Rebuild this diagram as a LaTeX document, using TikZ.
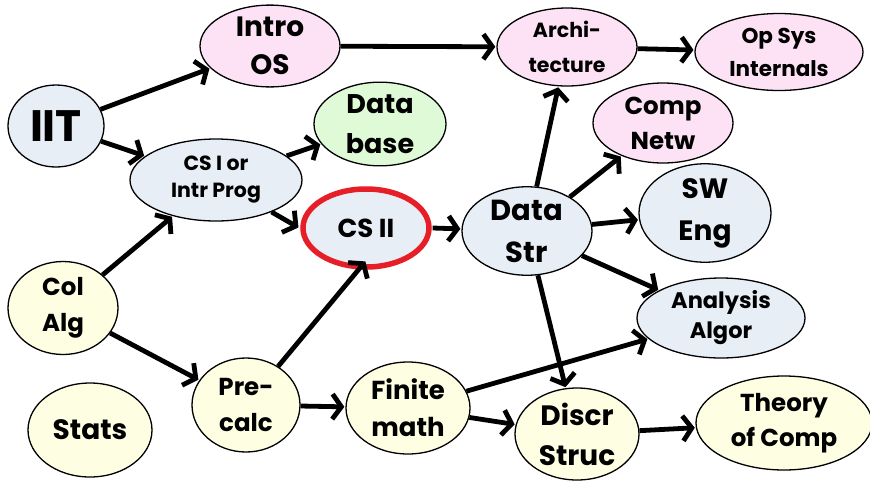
\documentclass[tikz,border=0pt]{standalone}
\usepackage{fontspec}
\setmainfont{Poppins}
\usetikzlibrary{shapes.geometric,arrows.meta}
\definecolor{pinkc}{RGB}{252,226,244}
\definecolor{greenc}{RGB}{222,250,214}
\definecolor{grayc}{RGB}{232,238,246}
\definecolor{creamc}{RGB}{254,254,226}
\definecolor{ringred}{RGB}{230,30,40}
\newcommand{\fsz}[2]{\fontsize{#1}{#2}\selectfont\bfseries}
\tikzset{
  el/.style={ellipse, draw=black, line width=1.3pt, inner sep=0pt, align=center, text=black},
  ar/.style={line width=4.8pt, -{Straight Barb[length=9pt,width=25pt]}, shorten >=1pt},
}
\begin{document}
\begin{tikzpicture}[x=1pt,y=-1pt]
\useasboundingbox (0,0) rectangle (870,480);
\fill[white] (0,0) rectangle (870,480);
% nodes
\node[el, fill=grayc, minimum width=96, minimum height=82, font=\fsz{44}{48}] (iit) at (56,126) {IIT};
\node[el, fill=pinkc, minimum width=140, minimum height=80, font=\fsz{28}{38}] (intro) at (270,46) {Intro\\OS};
\node[el, fill=grayc, minimum width=172, minimum height=82, font=\fsz{20.5}{27}] (cs1) at (216,180) {CS I or\\Intr Prog};
\node[el, fill=greenc, minimum width=132, minimum height=78, font=\fsz{27}{40}] (db) at (380,124) {Data\\base};
\node[el, fill=grayc, draw=none, minimum width=120, minimum height=72, font=\fsz{26}{30}] (cs2) at (366,228) {CS II};
\draw[ringred, line width=5.5pt] (cs2.center) ellipse [x radius=63, y radius=39];
\node[el, fill=grayc, minimum width=130, minimum height=82, font=\fsz{29}{42}] (ds) at (527,231) {Data\\Str};
\node[el, fill=pinkc, minimum width=140, minimum height=78, font=\fsz{20.5}{35}] (arch) at (567,47) {Archi-\\tecture};
\node[el, fill=pinkc, minimum width=168, minimum height=77, font=\fsz{21.5}{33}] (ops) at (779,52) {Op Sys\\Internals};
\node[el, fill=pinkc, minimum width=140, minimum height=80, font=\fsz{24.5}{35}] (cn) at (663,123) {Comp\\Netw};
\node[el, fill=grayc, minimum width=132, minimum height=80, font=\fsz{28}{42}] (sw) at (705,213) {SW\\Eng};
\node[el, fill=grayc, minimum width=168, minimum height=80, font=\fsz{22.5}{30}] (aa) at (721,318) {Analysis\\Algor};
\node[el, fill=creamc, minimum width=176, minimum height=94, font=\fsz{24.5}{35}] (th) at (784,423) {Theory\\of Comp};
\node[el, fill=creamc, minimum width=124, minimum height=92, font=\fsz{28}{40}] (dis) at (577,434) {Discr\\Struc};
\node[el, fill=creamc, minimum width=124, minimum height=92, font=\fsz{26}{37}] (fin) at (408,408) {Finite\\math};
\node[el, fill=creamc, minimum width=108, minimum height=94, font=\fsz{24.5}{36}] (pre) at (246,405) {Pre-\\calc};
\node[el, fill=creamc, minimum width=110, minimum height=93, font=\fsz{24.5}{36}] (col) at (63,308) {Col\\Alg};
\node[el, fill=creamc, minimum width=124, minimum height=94, font=\fsz{28}{32}] (st) at (90,430) {Stats};
% arrows
\draw[ar] (iit) -- (intro);
\draw[ar] (iit) -- (cs1);
\draw[ar] (intro) -- (arch);
\draw[ar] (arch) -- (ops);
\draw[ar] (cs1) -- (db);
\draw[ar] (cs1) -- ([xshift=-6pt]cs2.west);
\draw[ar] ([xshift=6pt]cs2.east) -- (ds);
\draw[ar] (ds) -- (arch);
\draw[ar] (ds) -- (cn);
\draw[ar] (ds) -- (sw);
\draw[ar] (ds) -- (aa);
\draw[ar] (ds) -- (dis);
\draw[ar] (col) -- (cs1);
\draw[ar] (col) -- (pre);
\draw[ar] (pre) -- ([yshift=4pt]cs2.south);
\draw[ar] (pre) -- (fin);
\draw[ar] (fin) -- (aa);
\draw[ar] (fin) -- (dis);
\draw[ar] (dis) -- (th);
\end{tikzpicture}
\end{document}
